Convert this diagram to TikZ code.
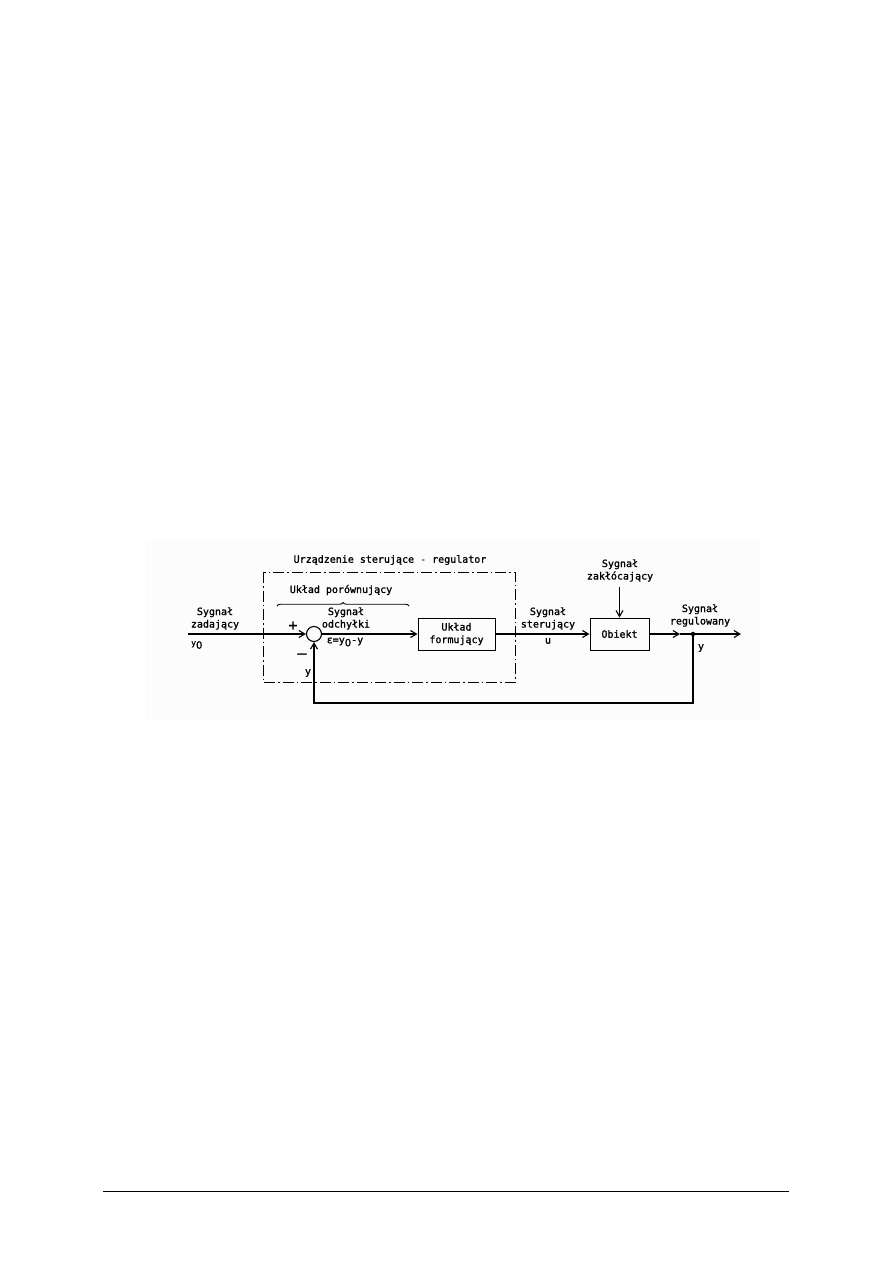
\documentclass[tikz,border=0pt]{standalone}
\usepackage{fontspec}
\setmainfont[FakeBold=1.2,AutoFakeBold=1.2]{DejaVu Sans Mono}
\newfontfamily\zerofont[FakeBold=1.2,AutoFakeBold=1.2]{DejaVu Sans}
\newcommand{\zro}{{\zerofont 0}}
\usetikzlibrary{arrows.meta,decorations.pathreplacing}
\begin{document}
\begin{tikzpicture}[x=1pt,y=-1pt,
  lbl/.style={font=\fontsize{10}{12.5}\selectfont\bfseries, align=center, inner sep=0pt},
  blk/.style={draw, line width=1pt, minimum width=77pt, minimum height=32pt, font=\fontsize{10}{12.5}\selectfont\bfseries, align=center},
  sig/.style={line width=1.3pt},
  arr/.style={sig, -{Straight Barb[length=6pt,width=7pt,line width=1.1pt]}},
  dashdot/.style={line width=1pt, dash pattern=on 11pt off 3pt on 1.5pt off 3pt}]
\useasboundingbox (0,0) rectangle (893,1263);
% scanned area tint
\fill[black!1.2] (145,541) rectangle (760,720);
% footer rule
\draw[line width=1pt] (103,1191) -- (789,1191);

% dash-dot box
\draw[dashdot] (263,572) rectangle (515,682);
\node[lbl] (title) at (390,560) {Urządzenie sterujące - regulator};
\node[lbl] (por) at (341,590) {Układ porównujący};
\draw[line width=0.9pt, decorate, decoration={brace, amplitude=3.5pt}] (277,606) -- (409,606);

% blocks
\node[draw, circle, line width=1.1pt, minimum size=15pt, inner sep=0pt] (sum) at (314,634) {};
\node[blk] (form) at (456.5,634) {Układ\\formujący};
\node[blk, minimum width=59pt] (obj) at (619.5,634) {Obiekt};

\coordinate (in) at (188,634);
\coordinate (out) at (741,634);
\coordinate (mid) at (680,634);
\node[circle, fill, inner sep=0pt, minimum size=4.5pt] (dot) at (693,634) {};
\coordinate (fb1) at (693,703);
\coordinate (fb2) at (314,703);
\coordinate (dist) at (619.5,587);

% signals
\draw[arr] (in) -- (sum.west);
\draw[arr] (sum.east) -- (form.west);
\draw[arr] (form.east) -- (obj.west);
\draw[arr] (dist) -- (obj.north);
\draw[arr] (obj.east) -- (mid);
\draw[arr] (mid) -- (out);
\draw[arr] (dot.center) -- (fb1) -- (fb2) -- (sum.south);

% labels
\node[lbl] (zad) at (215,618.5) {Sygnał\\zadający};
\node[lbl, anchor=west] (y0) at (191,645) {\raisebox{3pt}{\fontsize{8}{10}\selectfont y}\zro};
\node[lbl, font=\fontsize{15}{15}\selectfont] (plus) at (293,626) {+};
\node[lbl, font=\fontsize{15}{15}\selectfont] (minus) at (302,656) {–};
\node[lbl] (yfb) at (308,673) {y};
\node[lbl] (odch) at (346,618.5) {Sygnał\\odchyłki};
\node[lbl] (eps) at (345,642) {ε=y\raisebox{-3pt}{\zro}-y};
\node[lbl] (ster) at (548,618.5) {Sygnał\\sterujący};
\node[lbl] (u) at (548,641) {u};
\node[lbl] (zak) at (620,570.5) {Sygnał\\zakłócający};
\node[lbl] (reg) at (700,615.5) {Sygnał\\regulowany};
\node[lbl] (yout) at (701,648) {y};
\end{tikzpicture}
\end{document}
